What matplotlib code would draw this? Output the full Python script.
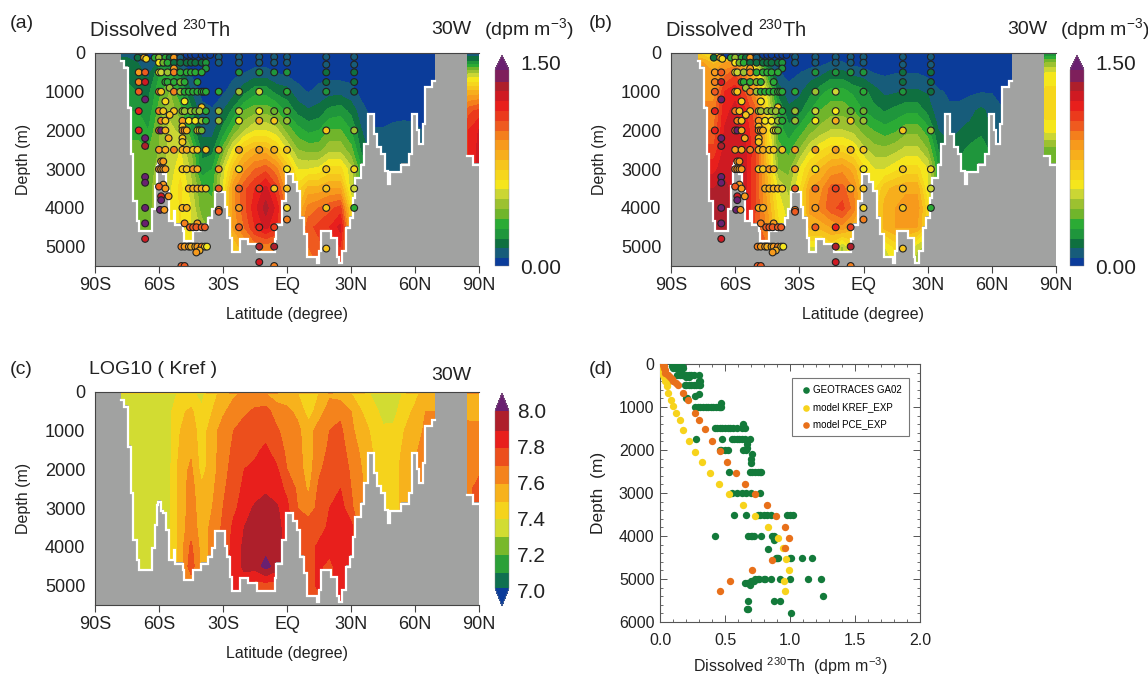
import numpy as np
import matplotlib
matplotlib.use('Agg')
import matplotlib.pyplot as plt
from matplotlib.colors import ListedColormap, BoundaryNorm

plt.rcParams['font.family'] = ['Liberation Sans', 'DejaVu Sans']
plt.rcParams['mathtext.default'] = 'regular'
TXT = '#222222'

# ---------------- data ----------------
lats = [-80,-75,-70,-65,-60,-55,-50,-45,-40,-35,-30,-25,-20,-15,-10,-5,0,5,10,15,20,25,30,35,40,45,50,55,60,65,70,85,90]
depths = [0,250,500,1000,1500,2000,2500,3000,3500,4000,4500,5000,5500]

th_kref = [
[.10,.10,.10,.06,.05,.06,.04,.03,.03,.03,.03,.03,.03,.03,.03,.03,.03,.03,.03,.03,.03,.03,.03,.03,.03,.03,.03,.03,.03,.03,.03,.10,.10],
[.20,.20,.15,.10,.16,.15,.08,.04,.03,.03,.03,.03,.04,.05,.05,.04,.03,.03,.03,.03,.03,.03,.03,.03,.03,.03,.03,.03,.03,.03,.03,.25,.25],
[.20,.20,.18,.12,.28,.30,.20,.06,.04,.04,.04,.05,.07,.10,.10,.07,.05,.04,.04,.04,.04,.04,.04,.04,.04,.04,.04,.04,.04,.04,.04,.50,.50],
[.25,.25,.22,.20,.35,.45,.30,.15,.05,.05,.06,.12,.20,.27,.27,.20,.18,.10,.07,.10,.12,.12,.10,.05,.04,.04,.04,.04,.04,.04,.04,.85,.85],
[.30,.30,.30,.25,.40,.50,.40,.25,.10,.08,.15,.25,.38,.42,.42,.38,.28,.20,.16,.18,.25,.27,.20,.10,.05,.04,.04,.04,.04,.04,.04,1.1,1.15],
[.35,.35,.35,.30,.45,.55,.50,.30,.12,.12,.25,.40,.52,.60,.60,.55,.42,.33,.28,.30,.38,.38,.30,.15,.08,.08,.10,.11,.10,.06,.06,1.2,1.28],
[.40,.40,.40,.37,.45,.55,.60,.45,.20,.20,.40,.62,.78,.85,.85,.75,.60,.45,.42,.42,.50,.50,.40,.20,.10,.10,.12,.12,.10,.07,.07,1.2,1.3],
[.42,.42,.42,.42,.47,.55,.65,.50,.25,.30,.55,.80,.95,1.05,1.10,1.00,.80,.60,.60,.62,.70,.70,.55,.30,.10,.10,.12,.12,.10,.07,.07,1.2,1.3],
[.42,.42,.42,.42,.50,.58,.70,.55,.38,.35,.60,.95,1.10,1.20,1.30,1.15,.90,.70,.85,.85,.90,.90,.55,.30,.10,.10,.12,.12,.10,.07,.07,1.2,1.3],
[.42,.42,.42,.42,.50,.60,.68,.60,.40,.40,.60,.95,1.10,1.25,1.38,1.25,1.00,.80,1.00,1.05,1.10,1.15,.70,.30,.10,.10,.12,.12,.10,.07,.07,1.2,1.3],
[.40,.40,.40,.40,.50,.60,.68,.60,.50,.40,.60,.92,1.05,1.20,1.30,1.20,1.00,.90,1.10,1.15,1.20,1.30,.80,.30,.10,.10,.12,.12,.10,.07,.07,1.2,1.3],
[.40,.40,.40,.40,.50,.60,.65,.65,.50,.40,.60,.75,.90,1.00,1.00,1.00,1.00,.90,1.05,1.10,1.20,1.20,.80,.30,.10,.10,.12,.12,.10,.07,.07,1.2,1.3],
[.40,.40,.40,.40,.50,.60,.65,.65,.50,.40,.60,.75,.90,1.00,1.00,1.00,1.00,.90,1.00,1.05,1.15,1.15,.80,.30,.10,.10,.12,.12,.10,.07,.07,1.2,1.3],
]

th_pce = [
[.75,.70,.60,.30,.20,.15,.10,.05,.03,.03,.03,.03,.03,.03,.03,.03,.03,.03,.03,.03,.03,.03,.03,.03,.03,.03,.03,.03,.03,.03,.03,.20,.20],
[.90,.90,.80,.90,.90,.60,.50,.15,.05,.03,.03,.04,.05,.08,.08,.05,.04,.03,.03,.03,.03,.03,.03,.03,.03,.03,.03,.03,.03,.03,.03,.45,.45],
[.95,.95,.90,1.00,1.10,.95,.70,.30,.08,.05,.07,.10,.12,.17,.17,.12,.10,.07,.06,.07,.07,.07,.05,.04,.04,.04,.04,.04,.04,.04,.04,.60,.60],
[.95,.95,.95,1.20,1.25,1.10,.90,.55,.20,.10,.13,.20,.27,.33,.33,.28,.25,.18,.13,.14,.16,.16,.14,.08,.07,.05,.06,.07,.07,.05,.05,.70,.70],
[1.0,1.0,1.00,1.25,1.30,1.20,1.05,.65,.30,.17,.20,.30,.38,.42,.42,.38,.30,.25,.22,.25,.28,.28,.20,.10,.08,.10,.13,.17,.12,.08,.08,.72,.72],
[1.05,1.05,1.05,1.28,1.32,1.25,1.10,.70,.35,.25,.33,.42,.48,.53,.53,.50,.42,.37,.33,.36,.42,.42,.33,.15,.12,.15,.17,.20,.14,.10,.10,.62,.62],
[1.15,1.15,1.15,1.30,1.32,1.28,1.12,.75,.40,.35,.45,.58,.66,.72,.72,.67,.55,.48,.47,.50,.55,.55,.45,.22,.17,.20,.25,.28,.20,.12,.12,.42,.42],
[1.25,1.25,1.25,1.32,1.30,1.28,1.10,.80,.45,.42,.60,.75,.83,.92,.95,.87,.70,.60,.60,.65,.70,.70,.60,.30,.20,.25,.28,.30,.20,.12,.12,.42,.42],
[1.35,1.35,1.35,1.38,1.30,1.28,1.10,.85,.60,.50,.65,.90,.95,1.08,1.08,.98,.75,.65,.80,.85,.88,.88,.60,.30,.20,.25,.28,.30,.20,.12,.12,.42,.42],
[1.38,1.38,1.38,1.38,1.30,1.28,1.10,.90,.65,.55,.65,.92,1.00,1.10,1.15,1.02,.80,.70,.85,.90,.95,.95,.70,.30,.20,.25,.28,.30,.20,.12,.12,.42,.42],
[1.38,1.38,1.38,1.38,1.30,1.25,1.10,.95,.70,.60,.60,.85,.85,.90,.95,.85,.80,.70,.85,.90,.90,.90,.70,.30,.20,.25,.28,.30,.20,.12,.12,.42,.42],
[1.38,1.38,1.38,1.38,1.30,1.25,1.10,1.05,.70,.60,.60,.60,.60,.70,.50,.70,.80,.70,.60,.70,.70,.55,.50,.30,.20,.25,.28,.30,.20,.12,.12,.42,.42],
[1.38,1.38,1.38,1.38,1.30,1.25,1.10,1.05,.70,.60,.60,.60,.60,.70,.50,.70,.80,.70,.55,.60,.60,.45,.50,.30,.20,.25,.28,.30,.20,.12,.12,.42,.42],
]

k_depths = [0,40,500,1000,1500,2000,2500,3000,3500,4000,4500,5000,5500]
log_kref = [
[7.62,7.62,7.62,7.62,7.62,7.62,7.62,7.62,7.62,7.62,7.65,7.68,7.72,7.75,7.75,7.7,7.65,7.62,7.62,7.62,7.65,7.65,7.62,7.62,7.62,7.62,7.62,7.62,7.62,7.62,7.62,7.75,7.75],
[7.36,7.36,7.36,7.36,7.36,7.36,7.42,7.42,7.37,7.48,7.52,7.58,7.62,7.62,7.6,7.55,7.55,7.5,7.43,7.5,7.58,7.55,7.5,7.45,7.38,7.32,7.33,7.42,7.47,7.55,7.55,7.55,7.55],
[7.36,7.36,7.36,7.36,7.36,7.38,7.48,7.52,7.42,7.5,7.58,7.65,7.68,7.72,7.74,7.65,7.62,7.58,7.45,7.55,7.65,7.68,7.6,7.5,7.45,7.36,7.37,7.46,7.52,7.6,7.6,7.55,7.55],
[7.36,7.36,7.36,7.36,7.36,7.38,7.5,7.55,7.45,7.55,7.65,7.7,7.75,7.76,7.76,7.72,7.65,7.62,7.55,7.65,7.7,7.72,7.62,7.55,7.48,7.42,7.42,7.5,7.55,7.62,7.62,7.65,7.65],
[7.36,7.36,7.36,7.36,7.36,7.38,7.52,7.58,7.45,7.56,7.65,7.72,7.78,7.78,7.82,7.75,7.68,7.63,7.55,7.65,7.72,7.75,7.65,7.58,7.5,7.44,7.45,7.52,7.57,7.68,7.68,7.65,7.65],
[7.36,7.36,7.36,7.36,7.36,7.38,7.55,7.62,7.46,7.56,7.66,7.74,7.8,7.82,7.85,7.82,7.7,7.65,7.55,7.68,7.75,7.78,7.68,7.6,7.5,7.45,7.45,7.55,7.58,7.68,7.68,7.65,7.65],
[7.36,7.36,7.36,7.36,7.36,7.38,7.55,7.64,7.52,7.58,7.68,7.76,7.82,7.84,7.88,7.84,7.78,7.68,7.58,7.72,7.78,7.8,7.7,7.62,7.5,7.45,7.45,7.55,7.58,7.68,7.68,7.65,7.78],
[7.36,7.36,7.36,7.36,7.36,7.38,7.55,7.64,7.55,7.6,7.7,7.78,7.84,7.92,7.95,7.92,7.82,7.7,7.65,7.73,7.8,7.85,7.72,7.62,7.5,7.45,7.45,7.55,7.58,7.68,7.68,7.65,7.78],
[7.36,7.36,7.36,7.36,7.36,7.38,7.55,7.65,7.56,7.62,7.72,7.82,7.9,7.92,7.95,7.94,7.85,7.72,7.75,7.76,7.82,7.88,7.84,7.62,7.5,7.45,7.45,7.55,7.58,7.68,7.68,7.65,7.78],
[7.36,7.36,7.36,7.36,7.36,7.38,7.55,7.72,7.56,7.62,7.72,7.84,7.92,7.94,7.96,7.94,7.85,7.72,7.76,7.82,7.85,7.88,7.84,7.62,7.5,7.45,7.45,7.55,7.58,7.68,7.68,7.65,7.78],
[7.36,7.36,7.36,7.36,7.36,7.38,7.55,7.76,7.56,7.62,7.72,7.85,7.92,7.94,8.04,7.95,7.85,7.74,7.76,7.82,7.76,7.88,7.84,7.62,7.5,7.45,7.45,7.55,7.58,7.68,7.68,7.65,7.78],
[7.36,7.36,7.36,7.36,7.36,7.38,7.55,7.62,7.56,7.62,7.72,7.85,7.85,7.75,7.75,7.75,7.85,7.74,7.76,7.82,7.76,7.88,7.84,7.62,7.5,7.45,7.45,7.55,7.58,7.68,7.68,7.65,7.78],
[7.36,7.36,7.36,7.36,7.36,7.38,7.55,7.62,7.56,7.62,7.72,7.85,7.85,7.75,7.75,7.75,7.85,7.74,7.72,7.75,7.76,7.88,7.84,7.62,7.5,7.45,7.45,7.55,7.58,7.68,7.68,7.65,7.78],
]

# seafloor: (lat where a step starts, ocean depth from that lat on)
bathy = [(-90,0),(-77.6,170),(-76.4,345),(-74.7,1380),(-73.3,2590),(-72.1,3790),(-70.4,4310),(-69.5,4570),
 (-63.3,4000),(-61.8,3400),(-60.9,2900),(-60.4,2800),(-59.2,3030),(-58,3100),(-56.6,3530),(-55.4,4310),
 (-53.2,4050),(-52.3,4400),(-48.9,4570),(-48.4,4830),(-44.2,4570),(-40.3,4400),(-36.8,4220),(-35.1,4000),
 (-33.9,3570),(-29.1,3950),(-28.2,4220),(-26.5,4740),(-25.6,5120),(-22.2,4780),(-18.4,4900),(-13.9,5120),
 (-5.8,4780),(-5,4400),(-2.4,3800),(-0.7,3100),(2.8,3300),(4.5,3530),(6.2,4220),(7.9,4650),(9.6,5250),
 (13.9,5390),(14.8,5090),(15.8,4570),(20.8,4740),(23.4,5250),(24.3,5390),(26,5090),(27.7,4480),(29.4,4220),
 (31.1,3710),(32,3190),(34.6,2850),(36.3,2330),(38,1550),(40.6,2070),(42.3,2410),(44.1,2590),(45.8,3020),
 (47.5,3360),(48.4,3050),(53.5,2850),(57,2590),(58.7,1550),(60.8,1950),(62.1,2330),(63.8,1810),(64.7,860),
 (68.2,690),(69.4,0),(84.5,2630),(87.1,2850),(90,2850)]
bathy_lat = [p[0] for p in bathy]
bathy_dep = [p[1] for p in bathy]

# stations shown in (a) and (b): depth rows with latitudes and readings
obs_rows = [
 (50, [-66,-64,-60,-58,-56,-52,-50,-47,-45,-43,-40,-38,-36], [.07,.07,.08,.08,.08,.07,.07,.06,.06,.06,.06,.06,.06]),
 (100, [-32,-22.5,-13,-6,0,18.4,31.5], [.1,.1,.1,.1,.1,.1,.1]),
 (120, [-70,-67,-62,-60,-57,-55,-53,-50], [.2,.85,.35,.5,.3,.2,.9,.1]),
 (150, [-66], [.7]),
 (250, [-60,-58,-56,-53,-50,-47,-45,-43,-40,-38,-32,-22.5,-13,-6,0], [.6,.4,.3,.15,.15,.15,.2,.15,.2,.25,.12,.12,.12,.12,.12]),
 (300, [18.4,31.5], [.12,.12]),
 (400, [-38,-53], [.25,.9]),
 (500, [-69.5,-66.5,-60,-59,-56,-53,-50,-47,-45,-43,-40,-22.5,-13,-6,0,18.4,31.5], [.95,1.05,.6,.55,.45,1.0,.35,.35,.3,.3,.3,.25,.25,.25,.25,.2,.2]),
 (750, [-69.5,-66.5,-57,-56,-53,-50,-48,-42,18.4,31.5], [1.0,1.3,.35,.3,.3,.4,.35,.3,.2,.15]),
 (900, [-55], [.5]),
 (1000, [-69.5,-60,-59,-53,-50,-48,-46,-44,-42,-40,-39,-38,-32,-22.5,-13,0,18.4,31.5], [1.05,1.0,.8,1.0,.5,.35,.3,.3,.3,.3,.3,.3,.3,.5,.55,.3,.25,.2]),
 (1200, [-66.5], [1.6]),
 (1250, [-57,-48], [.7,.6]),
 (1400, [-40], [.8]),
 (1500, [-69.5,-60,-58,-53,-49,-48,-45,-43,-41,-38,-32,-22.5,-13,-6,0], [1.2,1.0,.8,.8,.5,.45,.5,.4,.5,.3,.45,.55,.6,.4,.4]),
 (1600, [-55], [.8]),
 (1750, [-59,-57,-49,-46,-43,-40,-38,-32,-22.5,-13,-6,0], [1.0,.75,.9,.65,.65,.5,.3,.5,.6,.85,.75,.45]),
 (1900, [-49], [.8]),
 (2000, [-69.5,-60,-59,-57,-49,-48,-47,-42,-41,-40,18.4,31.5], [1.2,1.1,1.6,.85,.9,1.0,.85,.65,.6,.4,.8,.5]),
 (2200, [-66.5,-55.5,-49], [1.55,.85,.75]),
 (2300, [-49], [.75]),
 (2400, [-66.5], [1.4]),
 (2500, [-60,-57,-53,-49,-47,-44,-42,-38,-32,-22.5,-13,-6,0], [.95,.85,1.0,.85,.85,.8,.8,.8,.9,.95,.9,.85,.8]),
 (2800, [-59,-58], [.95,.9]),
 (3000, [-60,-59,-58,-57,-49,-47,-44,-42,-32,-22.5,0,18.4,31.5], [1.0,.95,.95,.9,.8,.8,.9,.85,.9,.6,.6,.75,.7]),
 (3200, [-66.5], [1.6]),
 (3350, [-66.5], [1.6]),
 (3400, [-58], [.95]),
 (3450, [-60], [1.1]),
 (3500, [-57,-46,-44,-42,-40,-38,-32,-22.5,-13,-6,0,18.4,31.5], [.95,.85,.85,.85,.85,.8,1.1,1.05,1.15,.8,.75,.8,.55]),
 (3700, [-55.5,-59], [.95,1.3]),
 (3800, [-59], [1.6]),
 (4000, [-66.5,-49,-47,-22.5,0,18.4,31.5], [1.6,.85,.85,.9,.7,.8,.3]),
 (4050, [-32,-59.5,-57.5], [1.0,1.6,.95]),
 (4100, [-32], [1.05]),
 (4300, [0], [1.0]),
 (4400, [-66.5,-48,-42], [1.6,1.0,.95]),
 (4500, [-45.5,-44,-42.5,-40,-38.5,-22.5,-13,-6], [1.1,1.1,1.1,1.1,1.1,1.05,1.2,1.15]),
 (4800, [-66.5], [1.3]),
 (5000, [-49.5,-48,-46,-45,-43,-42,-40,-38.5,-37.5,-13,-6], [1.0,.95,.95,.85,.85,.95,1.0,.8,.65,1.35,1.35]),
 (5050, [18.4], [.75]),
 (5100, [-41], [.85]),
 (5150, [-42.5], [.9]),
 (5400, [-13], [1.3]),
 (5500, [-49.5,-48,-6], [1.05,1.05,1.0]),
]
obs_lat = [x for d, la, v in obs_rows for x in la]
obs_dep = [d for d, la, v in obs_rows for x in la]
obs_val = [x for d, la, v in obs_rows for x in v]

# panel d: depth rows
ga02_rows = [
 (50,[.09,.11,.13,.15,.17]), (100,[.1,.12,.13,.15,.17,.18]), (150,[.16]),
 (250,[.13,.15,.17,.18,.2,.22,.24,.26,.3]), (300,[.2,.22]), (400,[.31,.3]),
 (500,[.19,.2,.22,.24,.26,.28,.3,.31]), (700,[.3]), (750,[.27]), (800,[.2,.21]), (900,[.47]),
 (1000,[.27,.29,.31,.33,.35,.37,.39,.41,.43,.45,.46,.47]), (1400,[.64]),
 (1500,[.42,.44,.46,.48,.5,.52,.54,.56,.59,.63,.65]),
 (1750,[.28,.48,.55,.57,.59,.61,.63,.65,.69]), (1850,[.67]), (1950,[.67]),
 (2000,[.46,.47,.5,.52,.64,.66]), (2100,[.71]), (2200,[.7]), (2300,[.7]),
 (2500,[.53,.69,.71,.73,.75,.77,.78]), (3000,[.55,.59,.63,.66,.7,.77]),
 (3500,[.57,.66,.75,.77,.8,.82,.85,.98,1.0,1.02]),
 (4000,[.42,.68,.7,.71,.72,.78,.86,.88]), (4100,[.88]), (4300,[.83]),
 (4500,[.89,.9,.91,1.0,1.01,1.09,1.17]),
 (5000,[.73,.75,.76,.8,.81,.85,.92,1.0,1.14,1.24]), (5050,[.7,.72]), (5100,[.65,.67]), (5150,[.69]),
 (5400,[1.25]), (5500,[.68,.88,.92]), (5700,[.67,.68]), (5800,[1.01]),
]
ga02_x = [x for d, xs in ga02_rows for x in xs]
ga02_d = [d for d, xs in ga02_rows for x in xs]
kref_x = [0,.003,.005,.01,.015,.02,.025,.03,.035,.04,.05,.055,.065,.085,.1,.125,.15,.18,.225,.27,.32,.385,.45,.53,.64,.73,.83,.91,.945,.97,.99,.955,.96]
kref_d = [0,25,50,100,150,200,250,300,350,400,450,520,670,830,985,1140,1310,1540,1790,2040,2285,2535,2780,3030,3285,3535,3790,4040,4290,4540,4790,5040,5290]
pce_x = [.025,.03,.03,.035,.04,.06,.08,.09,.1,.12,.14,.18,.215,.27,.3,.345,.4,.46,.515,.585,.655,.73,.82,.89,.96,.99,.965,.865,.71,.535,.46]
pce_d = [20,50,100,150,200,250,300,350,400,450,500,670,830,1130,1310,1510,1780,2020,2290,2530,2780,3030,3280,3530,3780,4040,4290,4550,4790,5040,5290]

lat_ticks = [-90,-60,-30,0,30,60,90]
lat_labels = ['90S','60S','30S','EQ','30N','60N','90N']
depth_ticks = [0,1000,2000,3000,4000,5000]
th_levels = np.linspace(0, 1.5, 21)
th_colors = ['#0B3C9A','#175C7A','#0F7040','#1F963C','#2BAB35','#70B52B','#9CC130','#CBD634','#F5E61C','#F6D61C',
             '#F6C51C','#F7AE1C','#F79A1C','#F47F1C','#EF5A1F','#EB3A1C','#E81F1C','#CF1A22','#AE1F2B','#7E1F5B']
k_levels = np.linspace(7, 8, 11)
k_colors = ['#0F7050','#2BA038','#78B82B','#D2DC32','#F5D31C','#F7B21C','#F4831C','#EC4F1C','#E81F1C','#AE1F2B']

W, H = 1148, 675
LAND = '#a1a2a1'

def rect(l, t, r, b):
    return [l / W, 1 - b / H, (r - l) / W, (b - t) / H]

def ftext(x, y, s, **kw):
    kw.setdefault('color', TXT)
    kw.setdefault('va', 'center')
    fig.text(x / W, 1 - (y + 2) / H, s, **kw)

def section(box, xg, yg, z, levels, colors, extend, under=None, over='#6A2070'):
    ax = fig.add_axes(rect(*box))
    cmap = ListedColormap(colors)
    cmap.set_over(over)
    cmap.set_under(under if under else colors[0])
    norm = BoundaryNorm(levels, cmap.N, extend='neither')
    cf = ax.contourf(xg, yg, np.array(z), levels=levels, cmap=cmap, norm=norm, extend=extend)
    ax.fill_between(bathy_lat, bathy_dep, 6000, step='post', color=LAND, lw=0, zorder=3)
    bd = np.array(bathy_dep, float)
    bd[bd == 0] = np.nan
    ax.step(bathy_lat, bd + 30, where='post', color='white', lw=1.6, zorder=3.5, solid_joinstyle='miter')
    ax.set_xlim(-90, 90)
    ax.set_ylim(5500, 0)
    ax.set_xticks(lat_ticks, lat_labels)
    ax.set_yticks(depth_ticks)
    ax.tick_params(axis='x', length=5, width=0.8, color='#444444', labelsize=13, labelcolor=TXT, pad=3)
    ax.tick_params(axis='y', length=0, labelsize=13, labelcolor=TXT, pad=7)
    for s in ax.spines.values():
        s.set_color('#444444'); s.set_linewidth(0.8); s.set_zorder(6)
    ax.spines['right'].set_visible(False)
    ax.set_xlabel('Latitude (degree)', fontsize=11.5, color=TXT, labelpad=9)
    ax.set_ylabel('Depth (m)', fontsize=11.5, color=TXT, labelpad=10)
    return ax, cf, cmap, norm

def colorbar(box, cf, frac):
    cax = fig.add_axes(rect(*box))
    cb = fig.colorbar(cf, cax=cax, extendfrac=frac, spacing='proportional')
    cb.set_ticks([])
    cb.minorticks_off()
    cb.outline.set_linewidth(0.3)
    cb.outline.set_edgecolor('#888888')
    cb.solids.set_edgecolor('face')
    return cb

fig = plt.figure(figsize=(W / 100, H / 100), dpi=100, facecolor='white')

# ---------- (a), (b)
for box, cbox, field, tag, tx, ux in [
        ((95, 53, 479, 266), (495, 55, 509, 266), th_kref, '(a)', 10, 0),
        ((671, 53, 1056, 266), (1070, 55, 1084, 266), th_pce, '(b)', 589, 576)]:
    ax, cf, cmap, norm = section(box, lats, depths, field, th_levels, th_colors, 'max')
    ax.scatter(obs_lat, obs_dep, c=obs_val, cmap=cmap, norm=norm, s=24, edgecolors='#222222',
               linewidths=0.8, zorder=5)
    colorbar(cbox, cf, 0.075)
    ftext(tx, 22, tag, fontsize=14)
    ftext(ux + 89, 28, 'Dissolved $^{230}$Th', fontsize=14.5)
    ftext(ux + 431, 28, '30W', fontsize=14)
    ftext(ux + 484, 27, '(dpm m$^{-3}$)', fontsize=14)
    ftext(cbox[2] + 11, 63, '1.50', fontsize=15)
    ftext(cbox[2] + 11, 266, '0.00', fontsize=15)

# ---------- (c)
ax, cf, cmap, norm = section((95, 392, 479, 605), lats, k_depths, log_kref, k_levels, k_colors, 'both', under='#0B3C9A')
colorbar((495, 393, 509, 606), cf, 0.1)
ftext(10, 367, '(c)', fontsize=14)
ftext(89, 367, 'LOG10 ( Kref )', fontsize=14)
ftext(431, 373, '30W', fontsize=14)
for v, y in zip(['8.0', '7.8', '7.6', '7.4', '7.2', '7.0'], [410, 446, 482, 518, 554, 590]):
    ftext(517, y, v, fontsize=15)

# ---------- (d)
ax = fig.add_axes(rect(660, 364, 920, 622))
ax.scatter(ga02_x, ga02_d, s=28, color='#137A3A', lw=0, label='GEOTRACES GA02', zorder=3)
ax.scatter(kref_x, kref_d, s=28, color='#F7D31C', lw=0, label='model KREF_EXP', zorder=4)
ax.scatter(pce_x, pce_d, s=28, color='#E8701A', lw=0, label='model PCE_EXP', zorder=5)
ax.set_xlim(0, 2)
ax.set_ylim(6000, 0)
ax.set_xticks([0, .5, 1, 1.5, 2], ['0.0', '0.5', '1.0', '1.5', '2.0'])
ax.set_yticks([0, 1000, 2000, 3000, 4000, 5000, 6000])
ax.set_xticks(np.arange(0, 2.01, .1), minor=True)
ax.set_yticks(np.arange(0, 6001, 200), minor=True)
ax.tick_params(which='major', direction='in', top=True, right=True, length=5, width=0.7,
               color='#555555', labelsize=11.5, labelcolor=TXT, pad=4)
ax.tick_params(axis='x', which='major', pad=8)
ax.tick_params(which='minor', direction='in', top=True, right=True, length=2.5, width=0.6, color='#555555')
for s in ax.spines.values():
    s.set_color('#555555'); s.set_linewidth(0.8)
ax.set_xlabel('Dissolved $^{230}$Th  (dpm m$^{-3}$)', fontsize=11.5, color=TXT, labelpad=5)
ax.set_ylabel('Depth  (m)', fontsize=12.5, color=TXT, labelpad=9)
leg = ax.legend(loc='upper left', bbox_to_anchor=(132 / 260, 1 - 14 / 258), fontsize=7, frameon=True,
                fancybox=False, edgecolor='#777777', framealpha=1, borderaxespad=0, borderpad=0.7,
                labelspacing=0.75, handletextpad=0.1, handlelength=1.4, markerscale=0.9)
leg.get_frame().set_linewidth(0.8)
ftext(589, 367, '(d)', fontsize=14)

fig.savefig('out.png', dpi=100, facecolor='white')
